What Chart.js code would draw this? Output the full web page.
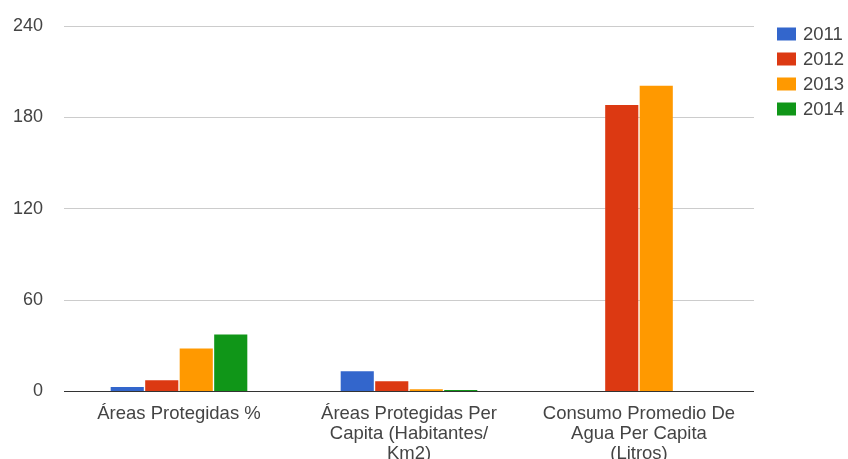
<!DOCTYPE html>
<html>
<head>
<meta charset="utf-8">
<script src="https://cdn.jsdelivr.net/npm/chart.js@4"></script>
<style>
  html, body { margin: 0; padding: 0; background: #fff; }
  #wrap { width: 848px; height: 459px; }
</style>
</head>
<body>
<div id="wrap"><canvas id="chart" width="848" height="459"></canvas></div>
<script>
// ---- data ----
const categories = [
    "Áreas Protegidas %",
    ["Áreas Protegidas Per", "Capita (Habitantes/", "Km2)"],
    ["Consumo Promedio De", "Agua Per Capita", "(Litros)"]
];
const years = ["2011", "2012", "2013", "2014"];
const values2011 = [3.0, 13.3, null];
const values2012 = [7.4, 6.8, 188.2];
const values2013 = [28.2, 1.5, 200.7];
const values2014 = [37.4, 1.0, null];
const yTicks = [0, 60, 120, 180, 240];

const colors = ["#3366cc", "#dc3912", "#ff9900", "#109618"];
const series = [values2011, values2012, values2013, values2014];

// legend drawn on the right side, top aligned
const sideLegend = {
    id: "sideLegend",
    afterDraw(chart) {
        const ctx = chart.ctx;
        ctx.save();
        ctx.font = "18.5px 'Liberation Sans', Arial, sans-serif";
        ctx.textBaseline = "middle";
        ctx.textAlign = "left";
        chart.data.datasets.forEach((ds, i) => {
            const cy = 34 + i * 25;
            ctx.fillStyle = ds.backgroundColor;
            ctx.fillRect(777, cy - 6.5, 19, 13);
            ctx.fillStyle = "#444";
            ctx.fillText(ds.label, 803, cy + 1);
        });
        ctx.restore();
    }
};

new Chart(document.getElementById("chart"), {
    type: "bar",
    data: {
        labels: categories,
        datasets: years.map((y, i) => ({
            label: y,
            data: series[i],
            backgroundColor: colors[i],
            borderWidth: 0,
            categoryPercentage: 0.6,
            barPercentage: 0.96
        }))
    },
    options: {
        responsive: false,
        animation: false,
        layout: { padding: { left: 0, right: 94, top: 26, bottom: 0 } },
        plugins: {
            legend: { display: false },
            tooltip: { enabled: false }
        },
        scales: {
            x: {
                grid: { display: false },
                border: { display: false },
                ticks: {
                    color: "#444",
                    padding: 4,
                    maxRotation: 0,
                    autoSkip: false,
                    font: { family: "'Liberation Sans', Arial, sans-serif", size: 18.5, lineHeight: "20px" }
                },
                afterFit(scale) { scale.height = 67.5; }
            },
            y: {
                min: 0,
                max: 240,
                afterBuildTicks(scale) { scale.ticks = yTicks.map(v => ({ value: v })); },
                grid: {
                    drawTicks: false,
                    color: ctx => ctx.tick && ctx.tick.value === 0 ? "#333" : "#ccc"
                },
                border: { display: false },
                ticks: {
                    color: "#444",
                    padding: 21,
                    font: { family: "'Liberation Sans', Arial, sans-serif", size: 18 }
                },
                afterFit(scale) {
                    scale.width = 64;
                    scale.paddingTop = 0;
                    scale.paddingBottom = 0;
                }
            }
        }
    },
    plugins: [sideLegend]
});
</script>
</body>
</html>
